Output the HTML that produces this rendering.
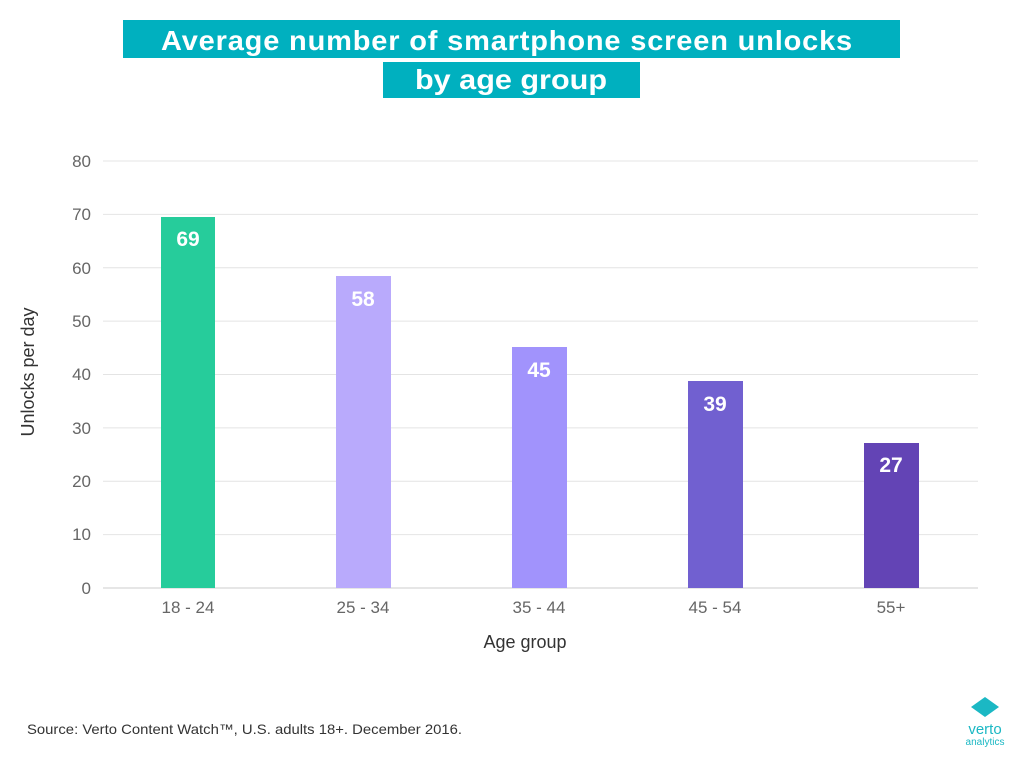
<!DOCTYPE html>
<html><head><style>
body{margin:0;width:1024px;height:763px;background:#fff;font-family:"Liberation Sans",sans-serif;overflow:hidden}
</style></head><body>
<svg width="1024" height="763" xmlns="http://www.w3.org/2000/svg" font-family="Liberation Sans, sans-serif">
<rect x="123" y="20" width="777" height="38" fill="#00b0bf"/>
<rect x="383" y="62" width="257" height="36" fill="#00b0bf"/>
<text x="507" y="50" text-anchor="middle" fill="#fff" font-size="28" font-weight="bold" letter-spacing="0.8" textLength="692" lengthAdjust="spacingAndGlyphs">Average number of smartphone screen unlocks</text>
<text x="511" y="89" text-anchor="middle" fill="#fff" font-size="28" font-weight="bold" textLength="192" lengthAdjust="spacingAndGlyphs">by age group</text>
<g stroke="#e4e4e4" stroke-width="1">
<line x1="103" x2="978" y1="161" y2="161"/><line x1="103" x2="978" y1="214.4" y2="214.4"/>
<line x1="103" x2="978" y1="267.8" y2="267.8"/><line x1="103" x2="978" y1="321.1" y2="321.1"/>
<line x1="103" x2="978" y1="374.5" y2="374.5"/><line x1="103" x2="978" y1="427.9" y2="427.9"/>
<line x1="103" x2="978" y1="481.3" y2="481.3"/><line x1="103" x2="978" y1="534.6" y2="534.6"/>
<line x1="103" x2="978" y1="588" y2="588" stroke="#ccc"/>
</g>
<g fill="#666" font-size="17" text-anchor="end">
<text x="91" y="167">80</text><text x="91" y="220">70</text><text x="91" y="274">60</text>
<text x="91" y="327">50</text><text x="91" y="380">40</text><text x="91" y="434">30</text>
<text x="91" y="487">20</text><text x="91" y="540">10</text><text x="91" y="594">0</text>
</g>
<rect x="161" y="217" width="54" height="371" fill="#26cc9b"/>
<rect x="336" y="276" width="55" height="312" fill="#b9aafc"/>
<rect x="512" y="347" width="55" height="241" fill="#a193fc"/>
<rect x="688" y="381" width="55" height="207" fill="#7160d0"/>
<rect x="864" y="443" width="55" height="145" fill="#6344b5"/>
<g fill="#fff" font-size="21" font-weight="bold" text-anchor="middle">
<text x="188" y="246">69</text><text x="363" y="306">58</text><text x="539" y="377">45</text>
<text x="715" y="411">39</text><text x="891" y="472">27</text>
</g>
<g fill="#666" font-size="17" text-anchor="middle">
<text x="188" y="613">18 - 24</text><text x="363" y="613">25 - 34</text><text x="539" y="613">35 - 44</text>
<text x="715" y="613">45 - 54</text><text x="891" y="613">55+</text>
</g>
<text x="525" y="648" text-anchor="middle" fill="#333" font-size="18">Age group</text>
<text transform="translate(34,372) rotate(-90)" text-anchor="middle" fill="#333" font-size="18">Unlocks per day</text>
<text x="27" y="734" fill="#333" font-size="14" textLength="435" lengthAdjust="spacingAndGlyphs">Source: Verto Content Watch™, U.S. adults 18+. December 2016.</text>
<polygon points="985,697 999,707 985,717 971,707" fill="#1bb8c4"/>
<text x="985" y="734" text-anchor="middle" fill="#1bb8c4" font-size="15">verto</text>
<text x="985" y="745" text-anchor="middle" fill="#1bb8c4" font-size="10">analytics</text>
</svg>
</body></html>
